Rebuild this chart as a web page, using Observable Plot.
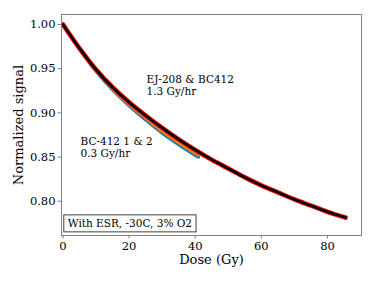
<!DOCTYPE html>
<html><head><meta charset="utf-8">
<script src="https://cdn.jsdelivr.net/npm/d3@7"></script>
<script src="https://cdn.jsdelivr.net/npm/@observablehq/plot@0.6"></script>
<style>body{margin:0;background:#fff}</style>
</head><body><div id="chart"></div>
<script>
// EJ-208 & BC412, 1.3 Gy/hr (black data with red fit)
const doseFast = [0, 5, 10, 15, 20, 25, 30, 35, 40, 45, 50, 55, 60, 65, 70, 75, 80, 85.5];
const signalFast = [1.000, 0.973, 0.949, 0.929, 0.912, 0.897, 0.883, 0.870, 0.858, 0.847, 0.837, 0.827, 0.818, 0.810, 0.802, 0.795, 0.788, 0.7815];
// BC-412 1 & 2, 0.3 Gy/hr
const doseSlow = [0, 5, 10, 15, 20, 25, 30, 35, 40, 41];
const signalSlow1 = [1.000, 0.972, 0.947, 0.926, 0.908, 0.892, 0.877, 0.864, 0.852, 0.850];
const signalSlow2 = [1.000, 0.973, 0.948, 0.927, 0.909, 0.894, 0.879, 0.866, 0.854, 0.852];
const yTicks = [0.80, 0.85, 0.90, 0.95, 1.00];
const xTicks = [0, 20, 40, 60, 80];
const labelFast = "EJ-208 & BC412\n1.3 Gy/hr";
const labelSlow = "BC-412 1 & 2\n0.3 Gy/hr";
const boxLabel = "With ESR, -30C, 3% O2";

const fast = doseFast.map((d, i) => ({dose: d, signal: signalFast[i]}));
const slow1 = doseSlow.map((d, i) => ({dose: d, signal: signalSlow1[i]}));
const slow2 = doseSlow.map((d, i) => ({dose: d, signal: signalSlow2[i]}));

const font = "DejaVu Serif";
const chart = Plot.plot({
  width: 374, height: 281,
  marginLeft: 61, marginRight: 13, marginTop: 14, marginBottom: 46,
  style: {fontFamily: font, background: "white", color: "black"},
  x: {domain: [-0.45, 90.3]},
  y: {domain: [0.7612, 1.0113]},
  marks: [
    Plot.line(slow1, {x: "dose", y: "signal", stroke: "#1f77b4", strokeWidth: 3.2, curve: "catmull-rom"}),
    Plot.line(slow2, {x: "dose", y: "signal", stroke: "#ff7f0e", strokeWidth: 2.6, curve: "catmull-rom"}),
    Plot.line(fast, {x: "dose", y: "signal", stroke: "red", strokeWidth: 4.6, curve: "catmull-rom"}),
    Plot.line(fast, {x: "dose", y: "signal", stroke: "black", strokeWidth: 2.6, curve: "catmull-rom"}),
    Plot.frame({stroke: "#808080", strokeWidth: 1}),
    Plot.axisY({ticks: yTicks, tickFormat: d3.format(".2f"), tickSize: 3.5, tickPadding: 2.5, fontSize: 11.5, stroke: "#808080", label: null}),
    Plot.axisX({ticks: xTicks, tickFormat: d3.format("d"), tickSize: 3.5, tickPadding: 2.5, fontSize: 11.5, stroke: "#808080", label: null}),
    Plot.text(["Dose (Gy)"], {frameAnchor: "bottom", dy: 24, fontSize: 13, lineAnchor: "middle"}),
    Plot.text(["Normalized signal"], {frameAnchor: "left", dx: -43, rotate: -90, fontSize: 13, textAnchor: "middle", lineAnchor: "middle"}),
    Plot.text([labelFast], {frameAnchor: "top-left", dx: 85, dy: 60, textAnchor: "start", lineAnchor: "top", fontSize: 10.5, lineHeight: 1.14}),
    Plot.text([labelSlow], {frameAnchor: "top-left", dx: 19, dy: 122, textAnchor: "start", lineAnchor: "top", fontSize: 10.5, lineHeight: 1.14}),
    Plot.text([boxLabel], {frameAnchor: "bottom-left", dx: 6.3, dy: -11.5, textAnchor: "start", lineAnchor: "middle", fontSize: 10.5})
  ]
});
document.getElementById("chart").appendChild(chart);

// white box with border behind the condition label
const t = Array.from(chart.querySelectorAll("text")).find(e => e.textContent === boxLabel);
if (t) {
  const bb = t.getBBox();
  const cy = bb.y + bb.height / 2;
  const r = document.createElementNS("http://www.w3.org/2000/svg", "rect");
  r.setAttribute("x", bb.x - 4);
  r.setAttribute("y", cy - 8.5);
  r.setAttribute("width", bb.width + 8);
  r.setAttribute("height", 17);
  r.setAttribute("fill", "white");
  r.setAttribute("stroke", "#404040");
  r.setAttribute("stroke-width", 1);
  if (t.getAttribute("transform")) r.setAttribute("transform", t.getAttribute("transform"));
  t.parentNode.insertBefore(r, t);
}
</script>
</body></html>
